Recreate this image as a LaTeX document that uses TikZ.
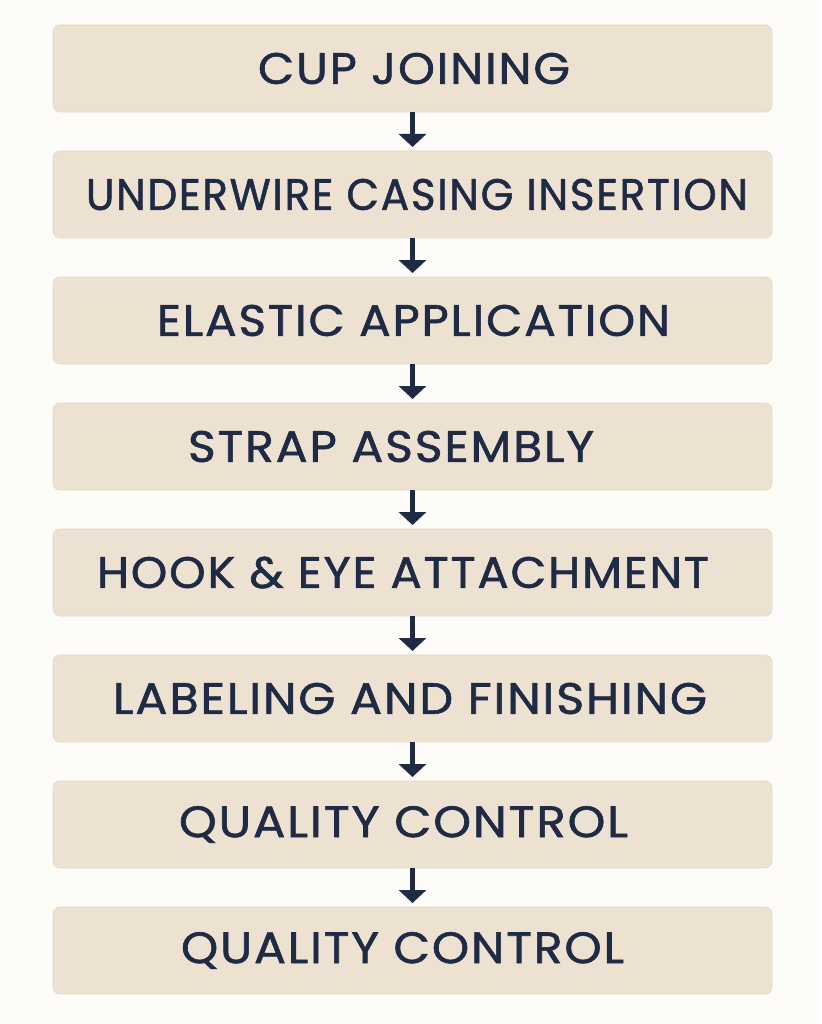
\documentclass[tikz,border=0pt]{standalone}
\usepackage{fontspec}
\setmainfont{Poppins}[LetterSpace=4,FakeBold=1.3]
\usetikzlibrary{arrows.meta}
\definecolor{bgc}{HTML}{FDFCF8}
\definecolor{boxc}{HTML}{EDE1D1}
\definecolor{boxedge}{HTML}{E6D9C6}
\definecolor{navy}{HTML}{1F2B45}
\newcommand\fitw[2]{\resizebox{#1pt}{\height}{#2}}
\tikzset{
  stepbox/.style={draw=boxedge, line width=0.8pt, fill=boxc, rounded corners=7pt,
    minimum width=719pt, minimum height=87pt, inner sep=0pt, outer sep=0pt},
  steptext/.style={text=navy, font=\fontsize{44}{44}\selectfont, inner sep=0pt},
  flow/.style={draw=navy, line width=5.5pt, -{Triangle[width=27pt,length=13pt]}, shorten >=4pt}
}
\begin{document}
\begin{tikzpicture}[x=1pt,y=-1pt]
\fill[bgc] (0,0) rectangle (821,1024);
\useasboundingbox (0,0) rectangle (821,1024);
\node[stepbox] (b1) at (412.5,68.5) {};
\node[stepbox] (b2) at (412.5,194.5) {};
\node[stepbox] (b3) at (412.5,320.5) {};
\node[stepbox] (b4) at (412.5,446.5) {};
\node[stepbox] (b5) at (412.5,572.5) {};
\node[stepbox] (b6) at (412.5,698.5) {};
\node[stepbox] (b7) at (412.5,824.5) {};
\node[stepbox] (b8) at (412.5,950.5) {};
\node[steptext] (t1) at (414,68.5) {\fitw{312}{CUP JOINING}};
\node[steptext] (t2) at (417,194.5) {\fitw{662}{UNDERWIRE CASING INSERTION}};
\node[steptext] (t3) at (413.5,320.5) {\fitw{513}{ELASTIC APPLICATION}};
\node[steptext] (t4) at (391,446.5) {\fitw{406}{STRAP ASSEMBLY}};
\node[steptext] (t5) at (403,572.5) {\fitw{612}{HOOK \& EYE ATTACHMENT}};
\node[steptext] (t6) at (410,698.5) {\fitw{594}{LABELING AND FINISHING}};
\node[steptext] (t7) at (403.5,824.5) {\fitw{449}{QUALITY CONTROL}};
\node[steptext] (t8) at (402.5,950.5) {\fitw{443}{QUALITY CONTROL}};
\draw[flow] (b1.south) -- (b2.north);
\draw[flow] (b2.south) -- (b3.north);
\draw[flow] (b3.south) -- (b4.north);
\draw[flow] (b4.south) -- (b5.north);
\draw[flow] (b5.south) -- (b6.north);
\draw[flow] (b6.south) -- (b7.north);
\draw[flow] (b7.south) -- (b8.north);
\end{tikzpicture}
\end{document}
